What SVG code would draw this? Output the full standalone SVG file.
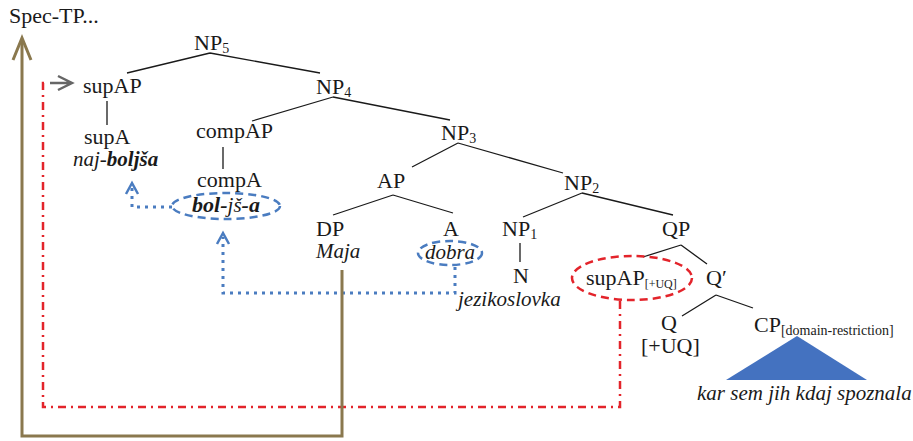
<svg xmlns="http://www.w3.org/2000/svg" width="913" height="441" viewBox="0 0 913 441" font-family="'Liberation Serif', 'Times New Roman', Times, serif">
  <style>
    text { font-family: "Liberation Serif", "Times New Roman", Times, serif; font-size: 22px; fill: #1a1a1a; }
    .it { font-style: italic; font-size: 21px; }
    .bi { font-style: italic; font-weight: bold; }
    .sub { font-size: 14px; }
    .tree { stroke: #1a1a1a; stroke-width: 1.3; fill: none; }
    .blue-ell { fill: none; stroke: #4a7cc0; stroke-width: 2.5; stroke-dasharray: 8 5; }
    .blue-dot { fill: none; stroke: #4a7cc0; stroke-width: 3; stroke-dasharray: 3 5; }
    .blue-head { fill: none; stroke: #4a7cc0; stroke-width: 2.5; }
    .red-ell { fill: none; stroke: #e3242b; stroke-width: 2.5; stroke-dasharray: 8 5; }
    .red-dd { fill: none; stroke: #e3242b; stroke-width: 2.5; stroke-dasharray: 8 5 2 5; }
    .brown { fill: none; stroke: #8a784e; stroke-width: 3; }
  </style>

  <!-- tree branches -->
  <g id="connectors">
    <path class="tree" d="M210,53 L127,73 M210,53 L320,73"/>
    <path class="tree" d="M107,101 V125"/>
    <path class="tree" d="M333,97 L252,121 M333,97 L450,120"/>
    <path class="tree" d="M223,147 V169"/>
    <path class="tree" d="M458,143 L412,167 M458,143 L563,173"/>
    <path class="tree" d="M393,195 L333,215 M393,195 L453,213"/>
    <path class="tree" d="M582,193 L523,217 M582,193 L673,215"/>
    <path class="tree" d="M520,243 V262"/>
    <path class="tree" d="M681,245 L643,257 M681,245 L707,264"/>
    <path class="tree" d="M716,295 L682,316 M716,295 L753,308"/>

    <!-- movement of the head to the comparative and superlative -->
    <path class="blue-dot" d="M455,267 V293 H223 V237"/>
    <path class="blue-head" d="M217,244 L223,233 L229,244"/>
    <path class="blue-dot" d="M172,207 H132 V187"/>
    <path class="blue-head" d="M126,194 L132,183 L138,194"/>

    <!-- raising of the superlative phrase -->
    <path class="red-dd" d="M620,301 V407 H43 V83 H48"/>
    <path fill="none" stroke="#666" stroke-width="2.5" d="M50,83 H71 M58,76 L72,83 L58,90"/>

    <!-- raising to Spec-TP -->
    <path class="brown" d="M342,270 V436 H22 V40"/>
    <path class="brown" d="M13,60 L22,38 L31,60"/>
  </g>

  <g id="spec-tp"><text x="9" y="23">Spec-TP...</text></g>
  <g id="np5"><text x="194" y="50">NP<tspan class="sub" dy="3">5</tspan></text></g>
  <g id="supap"><text x="83" y="93">supAP</text></g>
  <g id="np4"><text x="316" y="94">NP<tspan class="sub" dy="3">4</tspan></text></g>
  <g id="supa">
    <text x="84" y="144">supA</text>
    <text x="73" y="166" class="it">naj-<tspan class="bi">boljša</tspan></text>
  </g>
  <g id="compap"><text x="196" y="138">compAP</text></g>
  <g id="compa">
    <text x="197" y="187">compA</text>
    <ellipse class="blue-ell" cx="226" cy="206" rx="54" ry="13"/>
    <text x="226" y="212" text-anchor="middle" class="bi">bol-<tspan class="it" font-weight="normal">jš</tspan>-a</text>
  </g>
  <g id="np3"><text x="441" y="140">NP<tspan class="sub" dy="3">3</tspan></text></g>
  <g id="ap"><text x="377" y="188">AP</text></g>
  <g id="np2"><text x="564" y="190">NP<tspan class="sub" dy="3">2</tspan></text></g>
  <g id="dp">
    <text x="316" y="236">DP</text>
    <text x="316" y="258" class="it">Maja</text>
  </g>
  <g id="a">
    <text x="443" y="236">A</text>
    <ellipse class="blue-ell" cx="450" cy="253" rx="32" ry="12"/>
    <text x="450" y="259" text-anchor="middle" class="it">dobra</text>
  </g>
  <g id="np1"><text x="502" y="236">NP<tspan class="sub" dy="3">1</tspan></text></g>
  <g id="n">
    <text x="513" y="283">N</text>
    <text x="458" y="306" class="it">jezikoslovka</text>
  </g>
  <g id="qp"><text x="662" y="236">QP</text></g>
  <g id="supap-uq">
    <ellipse class="red-ell" cx="632" cy="278" rx="60" ry="22"/>
    <text x="586" y="285">supAP<tspan font-size="12" dy="3">[+UQ]</tspan></text>
  </g>
  <g id="qbar"><text x="706" y="285">Q′</text></g>
  <g id="q">
    <text x="661" y="330">Q</text>
    <text x="641" y="353">[+UQ]</text>
  </g>
  <g id="cp">
    <text x="754" y="332">CP<tspan class="sub" dy="3">[domain-restriction]</tspan></text>
    <polygon points="797,336 867,380 726,380" fill="#4472c0"/>
    <text x="697" y="400" class="it">kar sem jih kdaj spoznala</text>
  </g>
</svg>
